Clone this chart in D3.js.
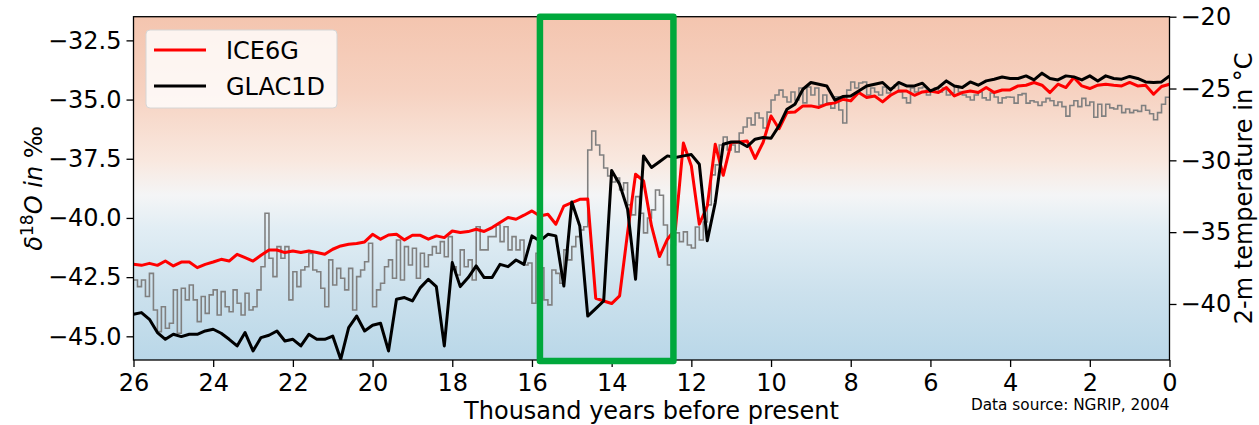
<!DOCTYPE html>
<html>
<head>
<meta charset="utf-8">
<script src="https://cdn.jsdelivr.net/npm/d3@7"></script>
<style>
  body { margin: 0; background: #fff; }
  svg { font-family: "DejaVu Sans", sans-serif; }
</style>
</head>
<body>
<svg id="chart" width="1259" height="425"></svg>
<script>
// ---- data -------------------------------------------------------------------
var x_ticks = [26, 24, 22, 20, 18, 16, 14, 12, 10, 8, 6, 4, 2, 0];
var d18o_ticks = [-45, -42.5, -40, -37.5, -35, -32.5];
var temp_ticks = [-40, -35, -30, -25, -20];

// NGRIP d18O (per mil), one value per 100 yr, from 26 ka towards 0 ka
var ngrip_start = 26, ngrip_step = 0.1;
var ngrip_d18o = [
  -42.62, -42.90, -42.62, -43.32, -42.34, -43.89, -44.80, -43.75, -44.66, -44.45,
  -43.04, -44.87, -42.97, -43.46, -42.83, -43.46, -44.38, -43.32, -44.03, -43.25,
  -43.04, -44.10, -43.11, -43.75, -43.96, -43.04, -43.60, -44.10, -43.18, -43.89,
  -43.75, -43.04, -42.06, -39.80, -41.70, -42.48, -41.21, -41.70, -41.21, -43.46,
  -42.27, -42.90, -42.20, -42.06, -41.50,
  -42.20, -42.27, -42.97, -43.75, -41.77, -42.83, -42.13, -42.55, -43.04, -42.13,
  -43.89, -42.48, -42.20, -41.85, -41.07, -43.75, -43.04, -42.76, -42.06, -41.77,
  -42.55, -40.93, -42.62, -41.21, -41.99, -41.28, -42.55, -41.49, -42.06, -41.56,
  -41.21, -41.49, -41.00, -41.64, -40.79, -42.06, -42.41, -41.35, -42.06, -41.77,
  -42.62, -40.37, -41.35,
  -41.35, -40.79, -40.79, -40.30, -41.00, -40.37, -41.35, -40.79, -41.35, -40.93,
  -41.99, -41.90, -43.60, -41.49, -42.11, -43.46, -43.67, -42.20, -42.34, -42.76,
  -41.35, -41.77, -41.21, -40.79, -40.51, -40.37, -37.13, -36.33, -36.92, -37.34,
  -37.89, -38.23, -38.48, -38.31, -38.82, -38.52, -39.45, -39.87, -39.10, -39.80,
  -40.63, -40.00, -39.66, -38.82,
  -39.04, -40.30, -41.99, -41.14, -40.63, -41.00, -40.59, -41.14, -41.27, -40.38,
  -40.93, -40.17, -39.45, -38.18, -37.76, -36.92, -36.58, -37.13, -36.92, -37.21,
  -36.41, -36.16, -35.78, -36.07, -35.57, -35.78, -36.20, -35.53, -35.02, -34.81,
  -34.60, -34.89, -35.10, -34.68, -35.02, -34.51, -35.14, -34.47, -34.81, -34.51,
  -35.23, -34.81, -35.14, -35.36,
  -34.88, -35.44, -35.99, -34.60, -34.26, -34.51, -34.30, -34.26, -34.81, -34.51,
  -34.68, -34.81, -34.47, -34.72, -34.51, -34.38, -34.68, -34.93, -35.14, -34.51,
  -34.68, -34.51, -34.47, -34.81, -34.60, -34.51, -34.68, -34.51, -34.81, -34.72,
  -34.43, -34.68, -34.81, -34.89, -35.02, -34.81, -34.68, -34.93, -35.02, -34.72,
  -34.89, -35.14, -34.93, -34.89,
  -34.90, -35.15, -34.80, -34.75, -35.15, -35.05, -35.10, -35.25, -35.10, -34.95,
  -35.05, -35.25, -35.10, -35.30, -35.70, -35.25, -35.05, -35.30, -34.95, -35.25,
  -35.10, -35.75, -35.20, -35.70, -35.20, -35.35, -35.40, -35.25, -35.55, -35.40,
  -35.55, -35.45, -35.50, -35.25, -35.45, -35.60, -35.85, -35.55, -35.20, -34.90
];

// simulated 2-m temperature (deg C), one value per 200 yr, 26 ka -> 0 ka
var model_start = 26, model_step = 0.2;
var ice6g_temp = [
  -37.24, -37.31, -37.17, -37.31, -37.01, -37.35, -37.08, -37.08, -37.47, -37.24,
  -37.08, -36.89, -37.01, -36.54, -36.77, -37.01, -36.61, -36.24, -36.24, -36.42,
  -36.31, -36.42, -36.31, -36.42, -36.54, -36.19, -35.96, -35.84, -35.79, -35.68,
  -35.15, -35.49, -35.20, -35.15, -35.54, -35.22, -35.22, -35.49, -35.26, -35.38,
  -34.92, -35.03, -34.96, -34.80, -34.95, -34.68, -34.33, -33.98, -34.10, -33.82,
  -33.52, -33.87, -33.75, -34.45, -33.18, -32.94, -32.71, -32.70, -39.60, -39.79,
  -39.97, -39.44, -35.03, -30.97, -31.43, -34.57, -36.70, -35.49, -34.80, -28.80,
  -30.39, -34.45, -33.18, -28.88, -31.04, -28.76, -28.72, -28.65, -29.87, -28.76,
  -26.91, -27.80, -26.67, -26.63, -26.21, -26.21, -26.32, -26.09, -26.00, -25.75,
  -25.86, -25.28, -25.63, -25.52, -25.93, -25.47, -25.17, -25.17, -25.47, -25.24,
  -25.17, -25.28, -24.93, -25.52, -25.28, -25.17, -25.28, -24.93, -25.28, -25.10,
  -25.10, -24.82, -24.77, -24.58, -24.77, -25.28, -24.70, -24.93, -24.23, -24.82,
  -25.00, -24.77, -24.70, -24.77, -24.82, -24.58, -24.82, -24.77, -25.40, -24.86,
  -24.70
];
var glac1d_temp = [
  -40.72, -40.60, -41.07, -41.99, -42.46, -42.11, -42.27, -42.11, -42.11, -41.88,
  -41.76, -42.04, -42.46, -42.92, -41.99, -43.27, -42.34, -42.18, -41.88, -42.58,
  -42.46, -42.92, -42.11, -42.46, -42.46, -42.23, -43.85, -41.64, -40.84, -41.88,
  -41.48, -41.34, -43.27, -39.67, -39.55, -39.79, -38.86, -38.28, -38.79, -42.92,
  -37.12, -38.79, -38.16, -37.35, -38.16, -38.16, -37.24, -37.40, -36.94, -37.24,
  -35.26, -35.61, -35.15, -35.26, -38.75, -32.90, -34.57, -40.84, -40.32, -39.79,
  -30.70, -31.66, -33.41, -38.28, -29.69, -30.50, -30.10, -29.69, -29.80, -29.69,
  -29.60, -30.27, -35.60, -32.94, -28.88, -28.72, -28.72, -29.04, -28.53, -28.41,
  -28.46, -27.60, -26.44, -26.09, -25.05, -24.58, -24.70, -24.82, -25.80, -25.56,
  -25.52, -25.17, -24.82, -24.70, -24.58, -25.10, -24.58, -24.82, -24.82, -24.63,
  -25.17, -24.93, -24.47, -24.82, -24.93, -24.54, -24.77, -24.47, -24.35, -24.20,
  -24.30, -24.30, -24.12, -24.40, -23.93, -24.30, -24.40, -24.12, -24.19, -24.40,
  -24.12, -24.47, -24.12, -24.30, -24.35, -24.16, -24.30, -24.54, -24.58, -24.54,
  -24.12
];

var series_names = ["ICE6G", "GLAC1D"];
var series_colors = ["#ff0000", "#000000"];
var highlight_window = [15.8, 12.45];   // ka

// ---- layout -----------------------------------------------------------------
var svg = d3.select("#chart"),
    width = 1259, height = 425,
    margin = {top: 16.7, left: 133.5, bottom: 65, right: 89.5};

var x = d3.scaleLinear().domain([26, 0]).range([margin.left, width - margin.right]);
var y_left = d3.scaleLinear().domain([-46, -31.5]).range([height - margin.bottom, margin.top]);
var y_right = d3.scaleLinear().domain([-43.9, -20]).range([height - margin.bottom, margin.top]);

var plot_w = width - margin.left - margin.right,
    plot_h = height - margin.top - margin.bottom;

var defs = svg.append("defs");

// warm-to-cold background
var grad = defs.append("linearGradient")
    .attr("id", "bg")
    .attr("x1", 0).attr("y1", 0).attr("x2", 0).attr("y2", 1);
[[0, "#f4c5af"], [0.22, "#f6d2c1"], [0.42, "#f9e8df"], [0.52, "#f4f5f6"],
 [0.62, "#e1edf4"], [0.8, "#cce1ed"], [1, "#b9d7e8"]].forEach(function(s) {
    grad.append("stop").attr("offset", s[0]).attr("stop-color", s[1]);
});

defs.append("clipPath").attr("id", "plot-clip")
  .append("rect")
    .attr("x", margin.left).attr("y", margin.top)
    .attr("width", plot_w).attr("height", plot_h);

svg.append("rect")
    .attr("x", margin.left).attr("y", margin.top)
    .attr("width", plot_w).attr("height", plot_h)
    .attr("fill", "url(#bg)");

// ---- lines ------------------------------------------------------------------
var plot = svg.append("g").attr("clip-path", "url(#plot-clip)");

var ngrip_pts = ngrip_d18o.map(function(v, i) { return [ngrip_start - i * ngrip_step, v]; });
ngrip_pts.push([0, ngrip_d18o[ngrip_d18o.length - 1]]);

plot.append("path")
    .datum(ngrip_pts)
    .attr("fill", "none")
    .attr("stroke", "#808080")
    .attr("stroke-width", 1.6)
    .attr("d", d3.line()
        .curve(d3.curveStepAfter)
        .x(d => x(d[0]))
        .y(d => y_left(d[1])));

var model_line = d3.line()
    .x(d => x(d[0]))
    .y(d => y_right(d[1]));

[ice6g_temp, glac1d_temp].forEach(function(vals, k) {
    var pts = vals.map(function(v, i) { return [model_start - i * model_step, v]; });
    plot.append("path")
        .datum(pts)
        .attr("fill", "none")
        .attr("stroke", series_colors[k])
        .attr("stroke-width", 3)
        .attr("stroke-linejoin", "round")
        .attr("d", model_line);
});

// ---- axes -------------------------------------------------------------------
function style_axis(g) {
    g.select(".domain").remove();
    g.selectAll(".tick line").attr("stroke", "#000").attr("stroke-width", 1.3);
    g.selectAll(".tick text")
        .attr("fill", "#000")
        .style("font-family", "DejaVu Sans")
        .style("font-size", "24px");
}

svg.append("g")
    .attr("transform", `translate(0,${height - margin.bottom})`)
    .call(d3.axisBottom(x).tickValues(x_ticks).tickSize(7).tickPadding(7).tickFormat(d3.format("d")))
    .call(style_axis);

svg.append("g")
    .attr("transform", `translate(${margin.left},0)`)
    .call(d3.axisLeft(y_left).tickValues(d18o_ticks).tickSize(7).tickPadding(5).tickFormat(d3.format(".1f")))
    .call(style_axis);

svg.append("g")
    .attr("transform", `translate(${width - margin.right},0)`)
    .call(d3.axisRight(y_right).tickValues(temp_ticks).tickSize(7).tickPadding(4).tickFormat(d3.format("d")))
    .call(style_axis);

// frame
svg.append("rect")
    .attr("x", margin.left).attr("y", margin.top)
    .attr("width", plot_w).attr("height", plot_h)
    .attr("fill", "none")
    .attr("stroke", "#000")
    .attr("stroke-width", 1.3);

// ---- labels -----------------------------------------------------------------
svg.append("text")
    .attr("x", margin.left + plot_w / 2)
    .attr("y", 419)
    .attr("text-anchor", "middle")
    .style("font-size", "24px")
    .text("Thousand years before present");

var ylab = svg.append("text")
    .attr("transform", `translate(42,${margin.top + plot_h / 2}) rotate(-90)`)
    .attr("text-anchor", "middle")
    .style("font-size", "24px");
ylab.append("tspan").style("font-style", "italic").text("δ");
ylab.append("tspan").attr("dy", -9).style("font-size", "17px").text("18");
ylab.append("tspan").attr("dy", 9).style("font-style", "italic").text("O in");
ylab.append("tspan").text(" ‰");

svg.append("text")
    .attr("transform", `translate(1252,${margin.top + plot_h / 2}) rotate(-90)`)
    .attr("text-anchor", "middle")
    .style("font-size", "24px")
    .text("2-m temperature in °C");

svg.append("text")
    .attr("x", width - margin.right)
    .attr("y", 410)
    .attr("text-anchor", "end")
    .style("font-size", "15.3px")
    .text("Data source: NGRIP, 2004");

// ---- legend -----------------------------------------------------------------
var legend = svg.append("g");
legend.append("rect")
    .attr("x", 146).attr("y", 30)
    .attr("width", 191).attr("height", 78)
    .attr("rx", 4)
    .attr("fill", "#fff").attr("fill-opacity", 0.8)
    .attr("stroke", "#d6d6d6");

series_names.forEach(function(name, k) {
    var ly = 50 + k * 36;
    legend.append("line")
        .attr("x1", 154).attr("x2", 206)
        .attr("y1", ly).attr("y2", ly)
        .attr("stroke", series_colors[k])
        .attr("stroke-width", 3);
    legend.append("text")
        .attr("x", 226).attr("y", ly + 8.5)
        .style("font-size", "24px")
        .text(name);
});

// ---- highlighted interval ---------------------------------------------------
svg.append("rect")
    .attr("x", x(highlight_window[0]))
    .attr("y", margin.top)
    .attr("width", x(highlight_window[1]) - x(highlight_window[0]))
    .attr("height", y_left(-46) - margin.top + 1)
    .attr("fill", "none")
    .attr("stroke", "#00a83c")
    .attr("stroke-width", 6.5)
    .attr("stroke-linejoin", "round");
</script>
</body>
</html>
